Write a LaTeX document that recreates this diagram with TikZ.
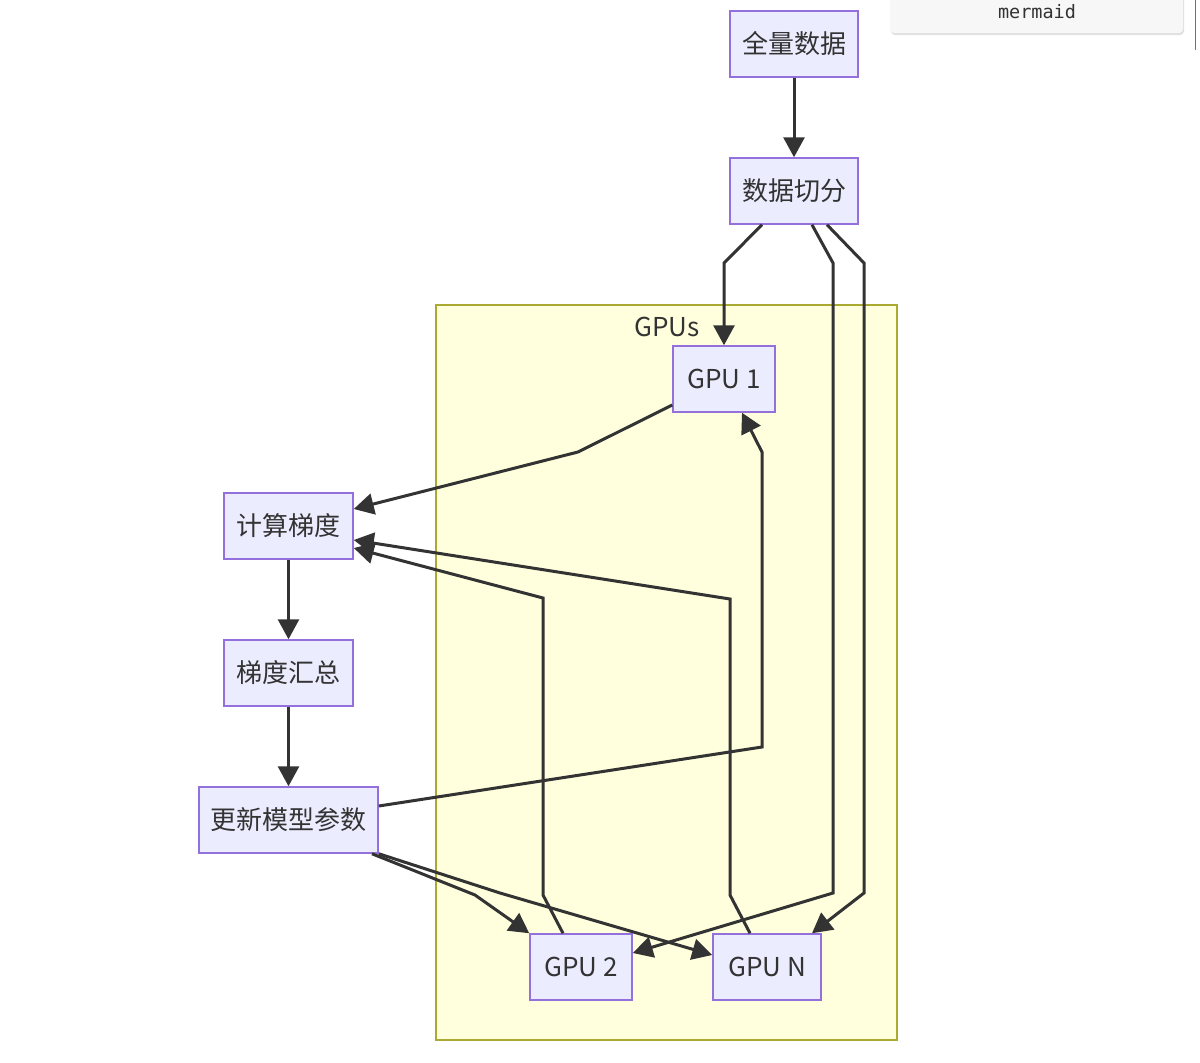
\documentclass[tikz,border=0pt]{standalone}
\usepackage{fontspec}
\setmainfont{Noto Sans CJK SC}
\newfontfamily\monof{DejaVu Sans Mono}
\usetikzlibrary{arrows.meta}
\definecolor{nodefill}{HTML}{ECECFF}
\definecolor{nodeline}{HTML}{9370DB}
\definecolor{grpfill}{HTML}{FFFFDE}
\definecolor{grpline}{HTML}{AAAA33}
\definecolor{edgec}{HTML}{333333}
\definecolor{txtc}{HTML}{333333}
\tikzset{
  box/.style={draw=nodeline, fill=nodefill, line width=1.5pt, minimum height=66pt,
    inner sep=0pt, text=txtc, font=\fontsize{26}{30}\selectfont},
  edge/.style={draw=edgec, line width=3pt, line join=miter,
    -{Triangle[length=20pt,width=21pt]}},
}
\begin{document}
\begin{tikzpicture}[x=1pt,y=-1pt]
\useasboundingbox (0,0) rectangle (1200,1063);
\fill[white] (0,0) rectangle (1200,1063);
% mermaid label box
\fill[black!12, rounded corners=4pt] (891,-6) rectangle (1184,35);
\fill[black!3, rounded corners=4pt] (890,-6) rectangle (1183,33);
\node[font=\monof\fontsize{18.5}{22}\selectfont, text=txtc] (mlabel) at (1037,12) {mermaid};
\draw[black!55, line width=1pt] (1195,0) -- (1195,50);
% subgraph
\draw[draw=grpline, fill=grpfill, line width=1.5pt] (436,305) rectangle (897,1040);
\node[text=txtc, font=\fontsize{26}{30}\selectfont] (gtitle) at (667,327) {GPUs};
% nodes
\node[box, minimum width=128pt] (all) at (794,44) {全量数据};
\node[box, minimum width=128pt] (split) at (794,191) {数据切分};
\node[box, minimum width=102pt] (g1) at (724,379) {GPU 1};
\node[box, minimum width=129pt] (calc) at (288.5,526) {计算梯度};
\node[box, minimum width=129pt] (agg) at (288.5,673) {梯度汇总};
\node[box, minimum width=179pt] (upd) at (288.5,820) {更新模型参数};
\node[box, minimum width=102pt] (g2) at (581,967) {GPU 2};
\node[box, minimum width=108pt] (gn) at (767,967) {GPU N};
% edges
\draw[edge] (all.south) -- (split.north);
\draw[edge] ([xshift=-32pt]split.south) -- (724,263) -- (g1.north);
\draw[edge] ([xshift=18pt]split.south) -- (833,263) -- (833,893) -- ([yshift=14pt]g2.east);
\draw[edge] ([xshift=33pt]split.south) -- (864,263) -- (864,893) -- ([xshift=45pt]gn.north);
\draw[edge] ([yshift=-26pt]g1.west) -- (578,452) -- ([yshift=17pt]calc.east);
\draw[edge] ([xshift=-18pt]g2.north) -- (543,895) -- (543,598) -- ([yshift=-22pt]calc.east);
\draw[edge] ([xshift=-17pt]gn.north) -- (730,895) -- (730,599) -- ([yshift=-14pt]calc.east);
\draw[edge] (calc.south) -- (agg.north);
\draw[edge] (agg.south) -- (upd.north);
\draw[edge] ([yshift=14pt]upd.east) -- (762,747) -- (762,452) -- ([xshift=18pt]g1.south);
\draw[edge] ([xshift=83.5pt]upd.south) -- (475,895) -- (g2.north west);
\draw[edge] (upd.south east) -- (500,893) -- ([yshift=12pt]gn.west);
\end{tikzpicture}
\end{document}
